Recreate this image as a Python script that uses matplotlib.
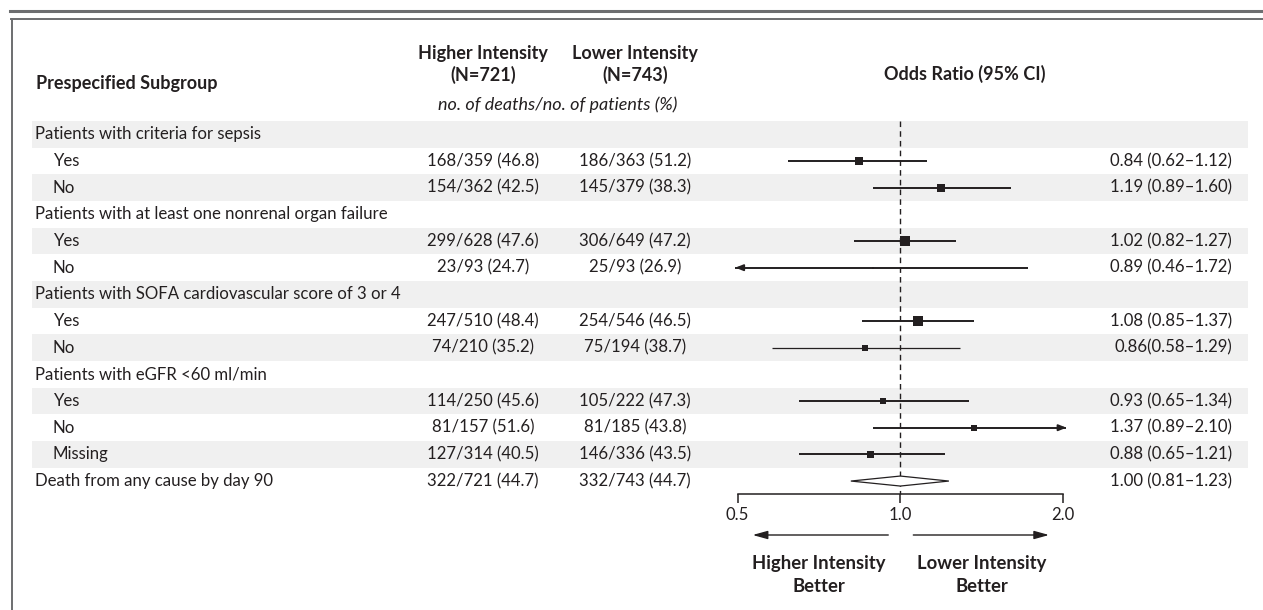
import matplotlib
matplotlib.use("Agg")
import matplotlib.pyplot as plt
from matplotlib.lines import Line2D
from matplotlib.patches import Polygon

plt.rcParams['font.family'] = ['Lato', 'DejaVu Sans']

# rows of the table, top to bottom (None = group header, no estimate)
labels = ["Patients with criteria for sepsis", "Yes", "No",
          "Patients with at least one nonrenal organ failure", "Yes", "No",
          "Patients with SOFA cardiovascular score of 3 or 4", "Yes", "No",
          "Patients with eGFR <60 ml/min", "Yes", "No", "Missing",
          "Death from any cause by day 90"]
is_header = [True, False, False, True, False, False, True, False, False,
             True, False, False, False, True]
higher = ["", "168/359 (46.8)", "154/362 (42.5)", "", "299/628 (47.6)", "23/93 (24.7)",
          "", "247/510 (48.4)", "74/210 (35.2)", "", "114/250 (45.6)", "81/157 (51.6)",
          "127/314 (40.5)", "322/721 (44.7)"]
lower = ["", "186/363 (51.2)", "145/379 (38.3)", "", "306/649 (47.2)", "25/93 (26.9)",
         "", "254/546 (46.5)", "75/194 (38.7)", "", "105/222 (47.3)", "81/185 (43.8)",
         "146/336 (43.5)", "332/743 (44.7)"]
or_text = ["", "0.84 (0.62\u20131.12)", "1.19 (0.89\u20131.60)", "", "1.02 (0.82\u20131.27)",
           "0.89 (0.46\u20131.72)", "", "1.08 (0.85\u20131.37)", "0.86(0.58\u20131.29)", "",
           "0.93 (0.65\u20131.34)", "1.37 (0.89\u20132.10)", "0.88 (0.65\u20131.21)",
           "1.00 (0.81\u20131.23)"]
odds = [None, 0.84, 1.19, None, 1.02, 0.89, None, 1.08, 0.86, None, 0.93, 1.37, 0.88, 1.00]
ci_lo = [None, 0.62, 0.89, None, 0.82, 0.46, None, 0.85, 0.58, None, 0.65, 0.89, 0.65, 0.81]
ci_hi = [None, 1.12, 1.60, None, 1.27, 1.72, None, 1.37, 1.29, None, 1.34, 2.10, 1.21, 1.23]
# square side in px, roughly proportional to the weight of the subgroup
box_px = [0, 8, 8, 0, 10, 2.5, 0, 10, 6, 0, 6, 6, 7, 0]

W, H = 1263, 610
INK = "#231f20"
BAND = "#f0f0f0"
ROW_TOP, ROW_H = 121, 26.67
CLIP_LO, CLIP_HI = 0.495, 2.03


def yr(py):
    # pixel y -> row units
    return (py - ROW_TOP) / ROW_H - 0.5


fig = plt.figure(figsize=(W / 100, H / 100), dpi=100)
ax = fig.add_axes([0, 0, 1, 1])
ax.set_xlim(0, W)
ax.set_ylim(yr(H), yr(0))
ax.axis("off")

# frame lines
fig.add_artist(Line2D([10 / W, 1], [1 - 11 / H] * 2, color="#6d6e70", lw=2.2))
fig.add_artist(Line2D([11 / W, 1], [1 - 18.5 / H] * 2, color="#6d6e70", lw=1.4))
fig.add_artist(Line2D([11.5 / W] * 2, [0, 1 - 18.5 / H], color="#6d6e70", lw=1.4))

n = len(labels)
for i in range(n):
    if i % 2 == 0 and i < n - 1:
        ax.axhspan(i - 0.5, i + 0.5, xmin=32 / W, xmax=1248 / W, color=BAND, lw=0, zorder=0)

fs = 12.1
fb = 13.0
for i in range(n):
    x = 35 if is_header[i] else 53
    ax.text(x, i, labels[i], ha="left", va="center", fontsize=fs, color=INK)
    ax.text(483, i, higher[i], ha="center", va="center", fontsize=fs, color=INK)
    ax.text(635, i, lower[i], ha="center", va="center", fontsize=fs, color=INK)
    ax.text(1232, i, or_text[i], ha="right", va="center", fontsize=fs, color=INK)

# column headers
hb = dict(fontsize=fb, fontweight="bold", color=INK, va="center")
ax.text(36, yr(84), "Prespecified Subgroup", ha="left", **hb)
ax.text(483, yr(53), "Higher Intensity", ha="center", **hb)
ax.text(483, yr(75), "(N=721)", ha="center", **hb)
ax.text(635, yr(53), "Lower Intensity", ha="center", **hb)
ax.text(635, yr(75), "(N=743)", ha="center", **hb)
ax.text(965, yr(74), "Odds Ratio (95% CI)", ha="center", **hb)
ax.text(558, yr(105), "no. of deaths/no. of patients (%)", ha="center", va="center",
        fontsize=fb, style="italic", color=INK)

# forest panel on log scale: 0.5 -> x=737.7, 2.0 -> x=1063
fx0, fx1 = 700, 1100
fax = fig.add_axes([fx0 / W, 0, (fx1 - fx0) / W, 1], sharey=ax)
fax.set_xscale("log")
ppd = (1063 - 737.7) / 2.0  # px per doubling
fax.set_xlim(2 ** ((fx0 - 900.3) / ppd), 2 ** ((fx1 - 900.3) / ppd))
fax.patch.set_alpha(0)
for s in ["top", "left", "right"]:
    fax.spines[s].set_visible(False)
fax.spines["bottom"].set_position(("data", yr(494)))
fax.spines["bottom"].set_bounds(0.5, 2.0)
fax.spines["bottom"].set_color(INK)
fax.spines["bottom"].set_linewidth(1.1)
fax.set_xticks([0.5, 1.0, 2.0])
fax.set_xticklabels(["0.5", "1.0", "2.0"])
fax.xaxis.set_minor_locator(matplotlib.ticker.NullLocator())
fax.tick_params(axis="x", direction="out", length=6.5, width=1.1, color=INK,
                labelsize=fs, labelcolor=INK, pad=2.5)
fax.tick_params(axis="y", left=False, labelleft=False)

fax.plot([1.0, 1.0], [yr(121), yr(494)], color=INK, lw=1.0, ls=(0, (4, 3)), zorder=1)

for i in range(n - 1):
    if odds[i] is None:
        continue
    lo, hi = ci_lo[i], ci_hi[i]
    lw = 0.9 if i == 8 else 1.4
    a, b = max(lo, CLIP_LO), min(hi, CLIP_HI)
    fax.plot([a, b], [i, i], color=INK, lw=lw, solid_capstyle="butt", zorder=2)
    if lo < CLIP_LO:
        fax.annotate("", xy=(CLIP_LO, i), xytext=(CLIP_LO * 1.03, i),
                     arrowprops=dict(arrowstyle="-|>,head_length=0.45,head_width=0.18",
                                     color=INK, lw=lw, shrinkA=0, shrinkB=0))
    if hi > CLIP_HI:
        fax.annotate("", xy=(CLIP_HI, i), xytext=(CLIP_HI / 1.03, i),
                     arrowprops=dict(arrowstyle="-|>,head_length=0.45,head_width=0.18",
                                     color=INK, lw=lw, shrinkA=0, shrinkB=0))
    fax.plot([odds[i]], [i], marker="s", ms=box_px[i] * 0.72, color=INK, mew=0, zorder=3)

# overall estimate as a diamond
k = n - 1
dh = 5 / ROW_H
fax.add_patch(Polygon([(ci_lo[k], k), (odds[k], k - dh), (ci_hi[k], k), (odds[k], k + dh)],
                      closed=True, facecolor="white", edgecolor=INK, lw=0.9, zorder=3))

# direction arrows
ay = yr(535)
fax.annotate("", xy=(0.533, ay), xytext=(0.95, ay),
             arrowprops=dict(arrowstyle="-|>,head_length=0.9,head_width=0.25", color=INK,
                             lw=1.0, shrinkA=0, shrinkB=0))
fax.annotate("", xy=(1.885, ay), xytext=(1.057, ay),
             arrowprops=dict(arrowstyle="-|>,head_length=0.9,head_width=0.25", color=INK,
                             lw=1.0, shrinkA=0, shrinkB=0))
ax.text(819, yr(575), "Higher Intensity\nBetter", ha="center", va="center",
        fontsize=13.3, fontweight="bold", color=INK, linespacing=1.45)
ax.text(982, yr(575), "Lower Intensity\nBetter", ha="center", va="center",
        fontsize=13.3, fontweight="bold", color=INK, linespacing=1.45)

fig.savefig("out.png", dpi=100)
